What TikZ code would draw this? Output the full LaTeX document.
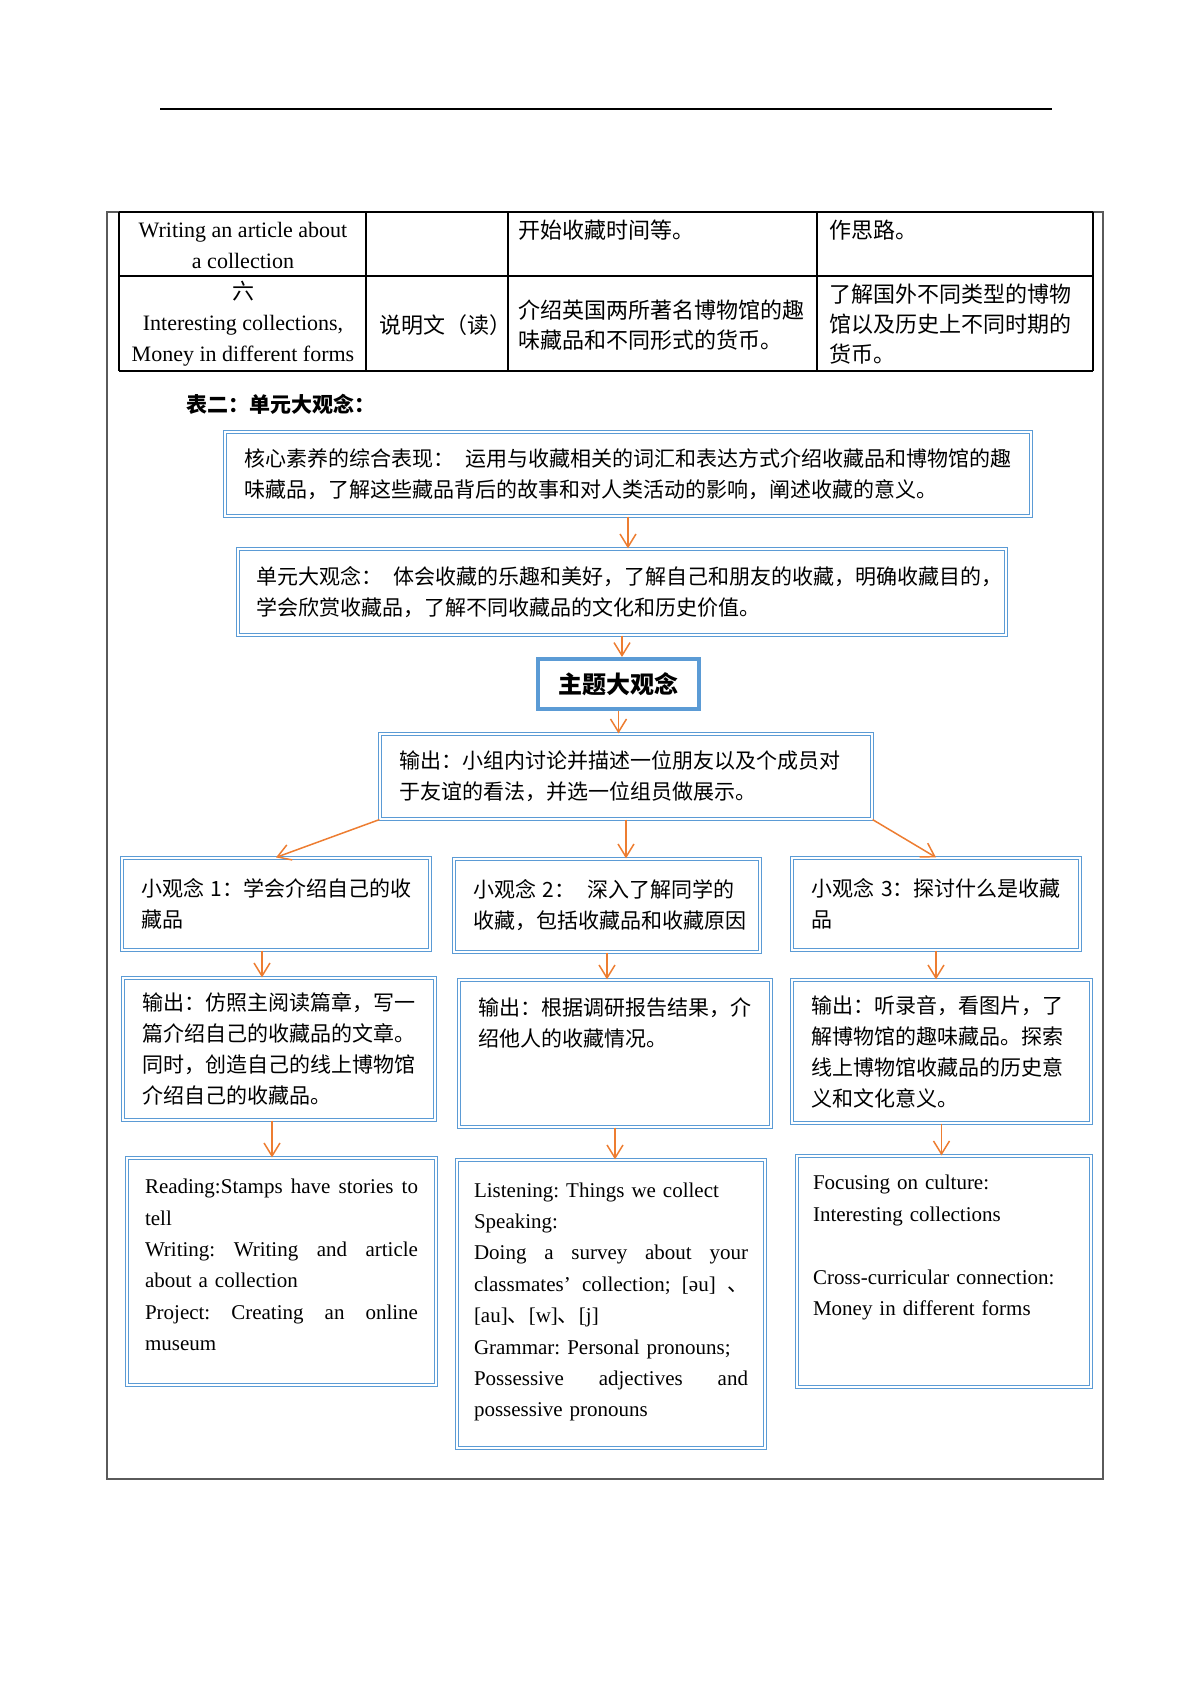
\documentclass[tikz,border=0pt]{standalone}
\usepackage{fontspec}
\setmainfont{Liberation Serif}
\newfontfamily\cjk{Noto Sans CJK SC}
\usetikzlibrary{arrows.meta}
\definecolor{boxblue}{RGB}{91,155,213}
\definecolor{arrorange}{RGB}{237,125,49}
\definecolor{framegray}{RGB}{90,90,90}
\frenchspacing

\begin{document}
\begin{tikzpicture}[x=0.5pt, y=-0.5pt,
    bluebox/.style={draw=boxblue, double=white, line width=0.6pt, double distance=1pt, align=left, inner xsep=9.5pt, inner ysep=0pt, font=\cjk\fontsize{10.5}{15.5}\selectfont},
    engbox/.style={bluebox, font=\fontsize{10.5}{15.7}\selectfont},
    arr/.style={draw=arrorange, line width=0.75pt, -{Straight Barb[length=6.5pt,width=8pt]}},
    cell/.style={font=\cjk\fontsize{11}{15}\selectfont, inner sep=0pt, align=left},
    ecell/.style={font=\fontsize{11}{15.5}\selectfont, inner sep=0pt, align=center}]

      \useasboundingbox (0,0) rectangle (1200,1697);

      % page rule and frame
      \draw[line width=0.9pt] (160,109) -- (1052,109);
      \draw[framegray, line width=0.8pt] (107,212) rectangle (1103,1479);

      % table rows
      \draw[line width=0.75pt] (119,212) -- (1093,212);
      \draw[line width=0.75pt] (119,276) -- (1093,276);
      \draw[line width=0.75pt] (119,371) -- (1093,371);
      \draw[line width=0.75pt] (119,212) -- (119,371);
      \draw[line width=0.75pt] (366,212) -- (366,371);
      \draw[line width=0.75pt] (508,212) -- (508,371);
      \draw[line width=0.75pt] (817,212) -- (817,371);
      \draw[line width=0.75pt] (1093,212) -- (1093,371);

      \node[ecell] (lessonfive) at (243,245) {Writing an article about\\a collection};
      \node[cell, anchor=west] (contentfive) at (518,230) {开始收藏时间等。};
      \node[cell, anchor=west] (aimfive) at (829,230) {作思路。};

      \node[ecell] (lessonsix) at (243,324) {{\cjk 六}\\Interesting collections,\\Money in different forms};
      \node[cell, anchor=west] (typesix) at (379,325) {说明文（读）};
      \node[cell, anchor=west] (contentsix) at (518,325) {介绍英国两所著名博物馆的趣\\味藏品和不同形式的货币。};
      \node[cell, anchor=west] (aimsix) at (829,324) {了解国外不同类型的博物\\馆以及历史上不同时期的\\货币。};

      \node[font=\cjk\bfseries\fontsize{10.5}{12}\selectfont, anchor=west, inner sep=0pt] (tabletitle) at (186,404) {表二：单元大观念：};

      % big ideas
      \node[bluebox, minimum width=403pt, minimum height=42pt, text width=384pt] (core) at (628,474)
        {核心素养的综合表现：\hspace{6pt}运用与收藏相关的词汇和表达方式介绍收藏品和博物馆的趣\\味藏品，了解这些藏品背后的故事和对人类活动的影响，阐述收藏的意义。};
      \node[bluebox, minimum width=384pt, minimum height=43pt, text width=366pt, inner xsep=9pt] (unit) at (622,592)
        {单元大观念：\hspace{6pt}体会收藏的乐趣和美好，了解自己和朋友的收藏，明确收藏目的，\\学会欣赏收藏品，了解不同收藏品的文化和历史价值。};
      \node[draw=boxblue, line width=2pt, minimum width=80.5pt, minimum height=25pt, font=\cjk\bfseries\fontsize{12}{14}\selectfont] (theme) at (618.5,684) {主题大观念};
      \node[bluebox, minimum width=246pt, minimum height=42.5pt, text width=227pt] (output) at (626,776.5)
        {输出：小组内讨论并描述一位朋友以及个成员对\\于友谊的看法，并选一位组员做展示。};

      % small ideas
      \node[bluebox, minimum width=154pt, minimum height=46pt, text width=135pt] (ideaA) at (276,904)
        {小观念~1：学会介绍自己的收\\藏品};
      \node[bluebox, minimum width=153pt, minimum height=46.5pt, text width=134pt] (ideaB) at (607,905.5)
        {小观念~2：\hspace{6pt}深入了解同学的\\收藏，包括收藏品和收藏原因};
      \node[bluebox, minimum width=144pt, minimum height=46pt, text width=125pt] (ideaC) at (936,904)
        {小观念~3：探讨什么是收藏\\品};

      % outputs
      \node[bluebox, minimum width=156pt, minimum height=71pt, text width=137pt] (outA) at (279,1049)
        {输出：仿照主阅读篇章，写一\\篇介绍自己的收藏品的文章。\\同时，创造自己的线上博物馆\\介绍自己的收藏品。};
      \node[bluebox, minimum width=156pt, minimum height=73.5pt, text width=137pt] (outB) at (615,1053.5)
        {输出：根据调研报告结果，介\\绍他人的收藏情况。\\~\\~};
      \node[bluebox, minimum width=149.5pt, minimum height=71.5pt, text width=130.5pt] (outC) at (941.5,1051.5)
        {输出：听录音，看图片，了\\解博物馆的趣味藏品。探索\\线上博物馆收藏品的历史意\\义和文化意义。};

      % lessons
      \node[engbox, minimum width=154.5pt, minimum height=113.5pt, text width=136.5pt, inner xsep=9pt] (lessonA) at (281.5,1271.5)
        {Reading:Stamps\hfill have\hfill stories\hfill to\\tell\\Writing:\hfill Writing\hfill and\hfill article\\about a collection\\Project:\hfill Creating\hfill an\hfill online\\museum\\[-9pt]~};
      \node[engbox, minimum width=154pt, minimum height=144pt, text width=137pt, inner xsep=8.5pt] (lessonB) at (611,1304)
        {Listening: Things we collect\\Speaking:\\Doing\hfill a\hfill survey\hfill about\hfill your\\classmates’\hfill collection;\hfill [əu]\hfill{\cjk 、}\\{}[au]{\cjk 、}[w]{\cjk 、}[j]\\Grammar: Personal pronouns;\\Possessive\hfill adjectives\hfill and\\possessive pronouns\\[-11.4pt]~};
      \node[engbox, minimum width=147pt, minimum height=115.5pt, text width=131pt, inner xsep=8pt] (lessonC) at (944,1271.5)
        {Focusing on culture:\\Interesting collections\\~\\Cross-curricular connection:\\Money in different forms\\[10.3pt]~};

      % arrows
      \draw[arr] (core.south) -- (core.south |- unit.north);
      \draw[arr] (unit.south) -- (unit.south |- theme.north);
      \draw[arr] (theme.south) -- (theme.south |- output.north);
      \draw[arr] (output.south west) -- (ideaA.north);
      \draw[arr] (output.south) -- (output.south |- ideaB.north);
      \draw[arr] (output.south east) -- (ideaC.north);

      \draw[arr] ([xshift=-7pt]ideaA.south) -- ([xshift=-7pt]ideaA.south |- outA.north);
      \draw[arr] (ideaB.south) -- (ideaB.south |- outB.north);
      \draw[arr] (ideaC.south) -- (ideaC.south |- outC.north);

      \draw[arr] ([xshift=-3.5pt]outA.south) -- ([xshift=-3.5pt]outA.south |- lessonA.north);
      \draw[arr] (outB.south) -- (outB.south |- lessonB.north);
      \draw[arr] (outC.south) -- (outC.south |- lessonC.north);
    \end{tikzpicture}
\end{document}
